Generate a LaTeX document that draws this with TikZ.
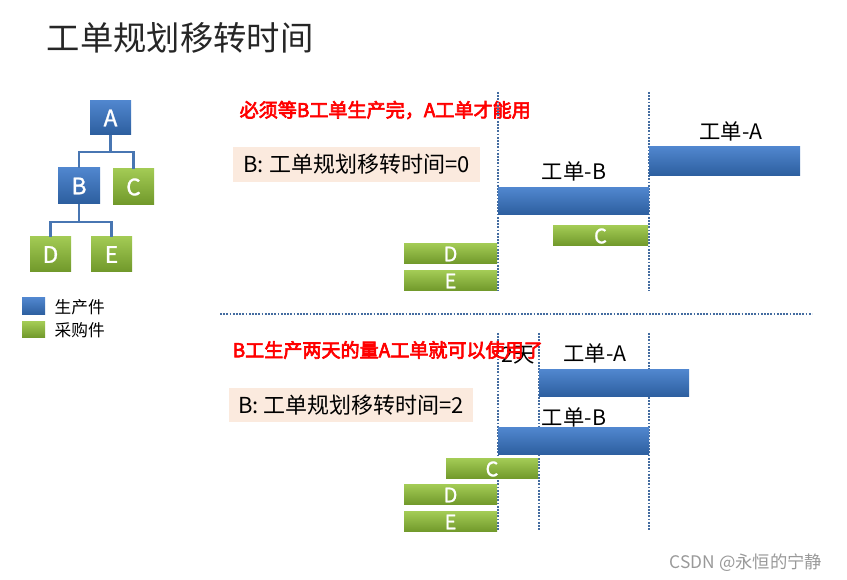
\documentclass[tikz,border=0pt]{standalone}
\usepackage{fontspec}
\setmainfont{Noto Sans CJK SC}
\newfontfamily\boldcjk[FakeBold=3.5]{Noto Sans CJK SC}
\newfontfamily\semicjk[FakeBold=1.2]{Noto Sans CJK SC}
\usetikzlibrary{positioning,fit,calc}

\definecolor{makeTop}{RGB}{80,134,206}
\definecolor{makeBot}{RGB}{44,94,158}
\definecolor{buyTop}{RGB}{162,202,84}
\definecolor{buyBot}{RGB}{112,152,42}
\definecolor{noteBg}{RGB}{251,234,222}
\definecolor{dotLine}{RGB}{68,108,160}
\definecolor{treeLine}{RGB}{72,118,178}

\tikzset{
    make/.style={draw=none, top color=makeTop, bottom color=makeBot, inner sep=0pt},
    buy/.style={draw=none, top color=buyTop, bottom color=buyBot, inner sep=0pt},
    treelbl/.style={text=white, inner sep=0pt, font=\semicjk\fontsize{17}{20}\selectfont},
    barlbl/.style={text=white, inner sep=0pt, font=\semicjk\fontsize{15}{18}\selectfont},
    order/.style={font=\fontsize{16}{19}\selectfont},
    note/.style={fill=noteBg, inner sep=0pt},
    notelbl/.style={inner sep=0pt, font=\fontsize{16.5}{20}\selectfont},
    redtxt/.style={text=red, anchor=west, font=\boldcjk\fontsize{14.3}{17}\selectfont},
    vdot/.style={dotLine, line width=1.3pt, dash pattern=on 1.3pt off 1.1pt},
    tree/.style={treeLine, line width=1.6pt}
}

\begin{document}
\begin{tikzpicture}[x=0.75pt, y=-0.75pt]
    \useasboundingbox (0,0) rectangle (847,580);

    % Title
    \node[anchor=west, text=black!85, font=\fontsize{25}{30}\selectfont] (title) at (42,38) {工单规划移转时间};

    % BOM tree
    \node[make, fit={(90,101) (131,135)}] (A) {};
    \node[make, fit={(58,168) (100,204)}] (B) {};
    \node[buy, fit={(113,169) (154,205)}] (C) {};
    \node[buy, fit={(30,237) (71,272)}] (D) {};
    \node[buy, fit={(91,237) (132,272)}] (E) {};
    \node[treelbl] (Atxt) at (A.center) {A};
    \node[treelbl] (Btxt) at (B.center) {B};
    \node[treelbl] (Ctxt) at (C.center) {C};
    \node[treelbl] (Dtxt) at (D.center) {D};
    \node[treelbl] (Etxt) at (E.center) {E};
    \draw[tree] (A.south) -- ++(0,17) -| (B.north);
    \draw[tree] (A.south) -- ++(0,17) -| (C.north);
    \draw[tree] (B.south) -- ++(0,18) -| (D.north);
    \draw[tree] (B.south) -- ++(0,18) -| (E.north);

    % Legend
    \node[make, fit={(22,298) (45,315)}] (keymake) {};
    \node[buy, fit={(22,322) (45,338)}] (keybuy) {};
    \node[anchor=west, font=\fontsize{12.5}{15}\selectfont] (keymaketxt) at (50,307) {生产件};
    \node[anchor=west, font=\fontsize{12.5}{15}\selectfont] (keybuytxt) at (50,330) {采购件};

    % Case 1: move time = 0
    \node[redtxt] (rule1) at (235,110) {必须等B工单生产完，A工单才能用};
    \node[note, fit={(233,147) (480,182)}] (note1) {};
    \node[notelbl] (note1txt) at (note1.center) {B: 工单规划移转时间=0};
    \coordinate (p1top) at (498,92);
    \coordinate (p1bot) at (498,291);
    \coordinate (q1top) at (649,92);
    \coordinate (q1bot) at (649,291);
    \draw[vdot] (p1top) -- (p1bot);
    \draw[vdot] (q1top) -- (q1bot);
    \node[make, fit={(649,147) (800,176)}] (woA1) {};
    \node[order] (woA1txt) at (731,131) {工单-A};
    \node[make, fit={(498,188) (649,215)}] (woB1) {};
    \node[order] (woB1txt) at (574,171) {工单-B};
    \node[buy, fit={(553,226) (648,246)}] (C1) {};
    \node[buy, fit={(404,244) (497,264)}] (D1) {};
    \node[buy, fit={(404,271) (497,291)}] (E1) {};
    \node[barlbl] (C1txt) at (C1.center) {C};
    \node[barlbl] (D1txt) at (D1.center) {D};
    \node[barlbl] (E1txt) at (E1.center) {E};

    % Separator
    \coordinate (sepL) at (220,314);
    \coordinate (sepR) at (812,314);
    \draw[vdot] (sepL) -- (sepR);

    % Case 2: move time = 2
    \coordinate (p2top) at (498,333);
    \coordinate (p2bot) at (498,530);
    \coordinate (m2top) at (539,333);
    \coordinate (m2bot) at (539,530);
    \coordinate (q2top) at (649,333);
    \coordinate (q2bot) at (649,530);
    \draw[vdot] (p2top) -- (p2bot);
    \draw[vdot] (m2top) -- (m2bot);
    \draw[vdot] (q2top) -- (q2bot);
    \node[order] (days) at (518,355) {2天};
    \node[redtxt] (rule2) at (228,350) {B工生产两天的量A工单就可以使用了};
    \node[note, fit={(229,388) (473,422)}] (note2) {};
    \node[notelbl] (note2txt) at (note2.center) {B: 工单规划移转时间=2};
    \node[make, fit={(539,370) (689,397)}] (woA2) {};
    \node[order] (woA2txt) at (595,353) {工单-A};
    \node[make, fit={(498,428) (649,455)}] (woB2) {};
    \node[order] (woB2txt) at (574,417) {工单-B};
    \node[buy, fit={(446,459) (538,479)}] (C2) {};
    \node[buy, fit={(404,485) (497,505)}] (D2) {};
    \node[buy, fit={(404,512) (497,532)}] (E2) {};
    \node[barlbl] (C2txt) at (C2.center) {C};
    \node[barlbl] (D2txt) at (D2.center) {D};
    \node[barlbl] (E2txt) at (E2.center) {E};

    % Watermark
    \node[text=black!40, font=\fontsize{13}{16}\selectfont] (mark) at (746,563) {CSDN @永恒的宁静};
\end{tikzpicture}
\end{document}
